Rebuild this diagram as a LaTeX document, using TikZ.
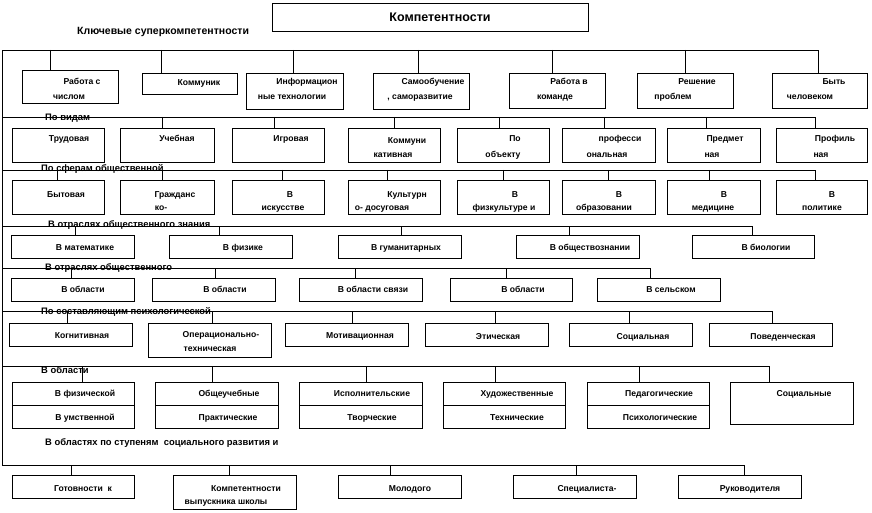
\documentclass[tikz,border=0pt]{standalone}
\usepackage{fontspec}
\setmainfont{Liberation Sans}
\usetikzlibrary{fit}
\begin{document}
\begin{tikzpicture}[x=1pt,y=-1pt,
  bx/.style={draw, line width=0.9pt, inner sep=0pt, outer sep=0pt},
  ln/.style={line width=0.9pt},
  t/.style={font=\bfseries\fontsize{8.6}{9}\selectfont, inner sep=0pt, text height=6pt, text depth=0pt},
  lb/.style={font=\bfseries\fontsize{9.4}{10}\selectfont, inner sep=0pt, text height=6.6pt, text depth=0pt, anchor=west},
]
\useasboundingbox (0,0) rectangle (872,513);
\fill[white] (0,0) rectangle (872,513);

% title
\node[bx, fit={(272,3) (588,31)}] (top) {};
\node[font=\bfseries\fontsize{12.5}{13}\selectfont, inner sep=0pt, text height=9pt, text depth=0pt] (topT) at (440,17) {Компетентности};
\node[font=\bfseries\fontsize{10.5}{11}\selectfont, inner sep=0pt, text height=7.3pt, text depth=0pt, anchor=west] (lab1) at (77,31) {Ключевые суперкомпетентности};

% row 1
\node[bx, fit={(22,70) (118,103)}] (k1) {};
\node[bx, fit={(142,73) (237,94)}] (k2) {};
\node[bx, fit={(246,73) (343,109)}] (k3) {};
\node[bx, fit={(373,73) (469,109)}] (k4) {};
\node[bx, fit={(509,73) (605,108)}] (k5) {};
\node[bx, fit={(637,73) (733,108)}] (k6) {};
\node[bx, fit={(772,73) (867,108)}] (k7) {};
\node[t] (k1a) at (82,82) {Работа с};
\node[t] (k1b) at (69,97) {числом};
\node[t] (k2a) at (199,83) {Коммуник};
\node[t] (k3a) at (307,82) {Информацион};
\node[t] (k3b) at (292,97) {ные технологии};
\node[t] (k4a) at (433,82) {Самообучение};
\node[t] (k4b) at (420,97) {, саморазвитие};
\node[t] (k5a) at (569,82) {Работа в};
\node[t] (k5b) at (555,97) {команде};
\node[t] (k6a) at (697,82) {Решение};
\node[t] (k6b) at (673,97) {проблем};
\node[t] (k7a) at (834,82) {Быть};
\node[t] (k7b) at (810,97) {человеком};
\coordinate (b1L) at (2,50);
\coordinate (b1R) at (818,50);
\coordinate (b8L) at (2,465);
\draw[ln] (b8L) -- (b1L) -- (b1R) -- (b1R |- k7.north);
\foreach \x/\n in {50/k1,161/k2,293/k3,418/k4,552/k5,685/k6}
  \draw[ln] (\x,50) -- (\x,50 |- \n.north);

% row 2
\node[lb] (lab2) at (45,117) {По видам};
\node[bx, fit={(12,128) (104,162)}] (v1) {};
\node[bx, fit={(120,128) (214,162)}] (v2) {};
\node[bx, fit={(232,128) (324,162)}] (v3) {};
\node[bx, fit={(348,128) (440,162)}] (v4) {};
\node[bx, fit={(457,128) (549,162)}] (v5) {};
\node[bx, fit={(562,128) (655,162)}] (v6) {};
\node[bx, fit={(667,128) (760,162)}] (v7) {};
\node[bx, fit={(776,128) (867,162)}] (v8) {};
\node[t] (v1a) at (69,139) {Трудовая};
\node[t] (v2a) at (177,139) {Учебная};
\node[t] (v3a) at (291,139) {Игровая};
\node[t] (v4a) at (407,141) {Коммуни};
\node[t] (v4b) at (393,155) {кативная};
\node[t] (v5a) at (515,139) {По};
\node[t] (v5b) at (503,155) {объекту};
\node[t] (v6a) at (620,139) {професси};
\node[t] (v6b) at (607,155) {ональная};
\node[t] (v7a) at (725,139) {Предмет};
\node[t] (v7b) at (712,155) {ная};
\node[t] (v8a) at (835,139) {Профиль};
\node[t] (v8b) at (821,155) {ная};
\coordinate (b2L) at (2,117);
\coordinate (b2R) at (815,117);
\draw[ln] (b2L) -- (b2R) -- (b2R |- v8.north);
\foreach \x/\n in {162/v2,274/v3,394/v4,499/v5,604/v6,706/v7}
  \draw[ln] (\x,117) -- (\x,117 |- \n.north);

% row 3
\node[lb] (lab3) at (41,168) {По сферам общественной};
\node[bx, fit={(12,180) (104,214)}] (s1) {};
\node[bx, fit={(120,180) (214,214)}] (s2) {};
\node[bx, fit={(232,180) (324,214)}] (s3) {};
\node[bx, fit={(348,180) (440,214)}] (s4) {};
\node[bx, fit={(457,180) (549,214)}] (s5) {};
\node[bx, fit={(562,180) (655,214)}] (s6) {};
\node[bx, fit={(667,180) (760,214)}] (s7) {};
\node[bx, fit={(776,180) (867,214)}] (s8) {};
\node[t] (s1a) at (66,194) {Бытовая};
\node[t] (s2a) at (175,194) {Гражданс};
\node[t] (s2b) at (161,208) {ко-};
\node[t] (s3a) at (290,194) {В};
\node[t] (s3b) at (283,208) {искусстве};
\node[t] (s4a) at (407,194) {Культурн};
\node[t] (s4b) at (382,208) {о- досуговая};
\node[t] (s5a) at (515,194) {В};
\node[t] (s5b) at (504,208) {физкультуре и};
\node[t] (s6a) at (619,194) {В};
\node[t] (s6b) at (604,208) {образовании};
\node[t] (s7a) at (724,194) {В};
\node[t] (s7b) at (713,208) {медицине};
\node[t] (s8a) at (832,194) {В};
\node[t] (s8b) at (822,208) {политике};
\coordinate (b3L) at (2,170);
\coordinate (b3R) at (815,170);
\draw[ln] (b3L) -- (b3R) -- (b3R |- s8.north);
\foreach \x/\n in {57/s1,162/s2,282/s3,387/s4,503/s5,608/s6,709/s7}
  \draw[ln] (\x,170) -- (\x,170 |- \n.north);

% row 4
\node[lb] (lab4) at (48,224) {В отраслях общественного знания};
\node[bx, fit={(11,235) (134,258)}] (o1) {};
\node[bx, fit={(169,235) (292,258)}] (o2) {};
\node[bx, fit={(338,235) (461,258)}] (o3) {};
\node[bx, fit={(516,235) (639,258)}] (o4) {};
\node[bx, fit={(692,235) (814,258)}] (o5) {};
\node[t] (o1a) at (85,247) {В математике};
\node[t] (o2a) at (243,247) {В физике};
\node[t] (o3a) at (406,247) {В гуманитарных};
\node[t] (o4a) at (590,247) {В обществознании};
\node[t] (o5a) at (766,247) {В биологии};
\coordinate (b4L) at (2,226);
\coordinate (b4R) at (752,226);
\draw[ln] (b4L) -- (b4R) -- (b4R |- o5.north);
\foreach \x/\n in {75/o1,219/o2,401/o3,569/o4}
  \draw[ln] (\x,226) -- (\x,226 |- \n.north);

% row 5
\node[lb] (lab5) at (45,267) {В отраслях общественного};
\node[bx, fit={(11,278) (134,301)}] (p1) {};
\node[bx, fit={(152,278) (275,301)}] (p2) {};
\node[bx, fit={(299,278) (422,301)}] (p3) {};
\node[bx, fit={(450,278) (572,301)}] (p4) {};
\node[bx, fit={(597,278) (720,301)}] (p5) {};
\node[t] (p1a) at (83,289) {В области};
\node[t] (p2a) at (225,289) {В области};
\node[t] (p3a) at (373,289) {В области связи};
\node[t] (p4a) at (523,289) {В области};
\node[t] (p5a) at (671,289) {В сельском};
\coordinate (b5L) at (2,268);
\coordinate (b5R) at (650,268);
\draw[ln] (b5L) -- (b5R) -- (b5R |- p5.north);
\foreach \x/\n in {71/p1,215/p2,355/p3,506/p4}
  \draw[ln] (\x,268) -- (\x,268 |- \n.north);

% row 6
\node[lb] (lab6) at (41,311) {По составляющим психологической};
\node[bx, fit={(9,323) (132,346)}] (c1) {};
\node[bx, fit={(148,323) (271,357)}] (c2) {};
\node[bx, fit={(285,323) (408,346)}] (c3) {};
\node[bx, fit={(425,323) (548,346)}] (c4) {};
\node[bx, fit={(569,323) (692,346)}] (c5) {};
\node[bx, fit={(709,323) (832,346)}] (c6) {};
\node[t] (c1a) at (82,335) {Когнитивная};
\node[t] (c2a) at (221,334) {Операционально-};
\node[t] (c2b) at (210,348) {техническая};
\node[t] (c3a) at (360,335) {Мотивационная};
\node[t] (c4a) at (498,336) {Этическая};
\node[t] (c5a) at (643,336) {Социальная};
\node[t] (c6a) at (783,336) {Поведенческая};
\coordinate (b6L) at (2,311);
\coordinate (b6R) at (772,311);
\draw[ln] (b6L) -- (b6R) -- (b6R |- c6.north);
\foreach \x/\n in {67/c1,212/c2,352/c3,495/c4,629/c5}
  \draw[ln] (\x,311) -- (\x,311 |- \n.north);

% row 7
\node[lb] (lab7) at (41,370) {В области};
\node[bx, fit={(12,382) (134,428)}] (a1) {};
\node[bx, fit={(155,382) (278,428)}] (a2) {};
\node[bx, fit={(299,382) (422,428)}] (a3) {};
\node[bx, fit={(443,382) (565,428)}] (a4) {};
\node[bx, fit={(587,382) (709,428)}] (a5) {};
\node[bx, fit={(730,382) (853,424)}] (a6) {};
\foreach \n in {a1,a2,a3,a4,a5}
  \draw[ln] (\n.west) -- (\n.east);
\node[t] (a1a) at (85,393) {В физической};
\node[t] (a1b) at (85,417) {В умственной};
\node[t] (a2a) at (229,393) {Общеучебные};
\node[t] (a2b) at (228,417) {Практические};
\node[t] (a3a) at (372,393) {Исполнительские};
\node[t] (a3b) at (372,417) {Творческие};
\node[t] (a4a) at (517,393) {Художественные};
\node[t] (a4b) at (517,417) {Технические};
\node[t] (a5a) at (659,393) {Педагогические};
\node[t] (a5b) at (660,417) {Психологические};
\node[t] (a6a) at (804,393) {Социальные};
\coordinate (b7L) at (2,366);
\coordinate (b7R) at (769,366);
\draw[ln] (b7L) -- (b7R) -- (b7R |- a6.north);
\foreach \x/\n in {82/a1,212/a2,366/a3,495/a4,639/a5}
  \draw[ln] (\x,366) -- (\x,366 |- \n.north);

% row 8
\node[lb] (lab8) at (45,442) {В областях по ступеням\ \ социального развития и};
\node[bx, fit={(12,475) (134,498)}] (g1) {};
\node[bx, fit={(173,475) (296,509)}] (g2) {};
\node[bx, fit={(338,475) (461,498)}] (g3) {};
\node[bx, fit={(513,475) (636,498)}] (g4) {};
\node[bx, fit={(678,475) (801,498)}] (g5) {};
\node[t] (g1a) at (83,488) {Готовности\ \ к};
\node[t] (g2a) at (246,488) {Компетентности};
\node[t] (g2b) at (226,501) {выпускника школы};
\node[t] (g3a) at (410,488) {Молодого};
\node[t] (g4a) at (587,488) {Специалиста-};
\node[t] (g5a) at (750,488) {Руководителя};
\coordinate (b8R) at (744,465);
\draw[ln] (b8L) -- (b8R) -- (b8R |- g5.north);
\foreach \x/\n in {71/g1,229/g2,390/g3,576/g4}
  \draw[ln] (\x,465) -- (\x,465 |- \n.north);
\end{tikzpicture}
\end{document}
